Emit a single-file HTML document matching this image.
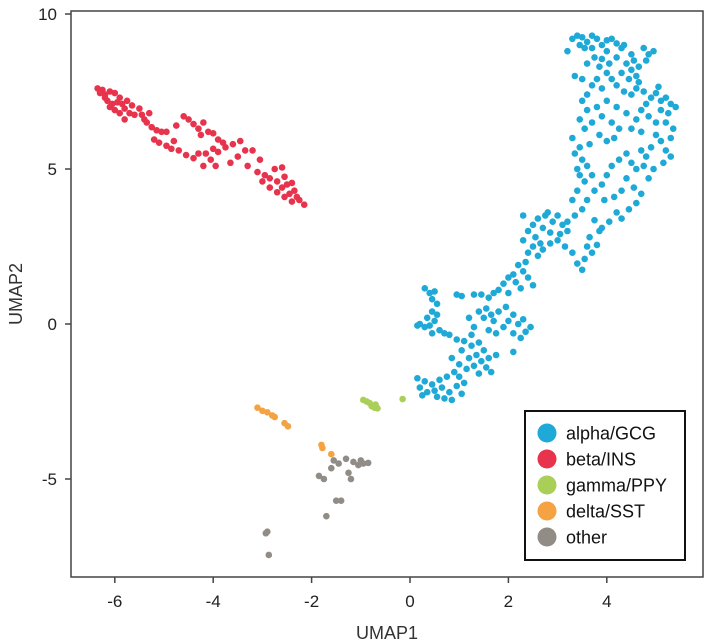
<!DOCTYPE html>
<html><head><meta charset="utf-8"><style>
html,body{margin:0;padding:0;background:#fff;width:709px;height:644px;overflow:hidden}
svg{display:block;font-family:"Liberation Sans",Arial,sans-serif}
</style></head><body>
<svg id="chart" width="709" height="644">
<g id="pts"></g>
<rect x="71" y="11" width="632" height="566" fill="none" stroke="#444" stroke-width="1.5"/>
<g id="axes"></g>
<text x="387" y="639" font-size="18" text-anchor="middle" fill="#333">UMAP1</text>
<text transform="translate(22,294) rotate(-90)" font-size="18" text-anchor="middle" fill="#333">UMAP2</text>
<g id="legend">
<rect x="525" y="411" width="160" height="149" fill="#fff" stroke="#111" stroke-width="2"/>
</g>
</svg>
<script>
const xTicks=[-6,-4,-2,0,2,4];
const yTicks=[10,5,0,-5];
const seriesNames=["alpha/GCG","beta/INS","gamma/PPY","delta/SST","other"];
const seriesColors=["#1fa9d6","#e8334d","#a9cf58","#f5a242","#918c86"];
const alpha=[[3.3,9.2],[3.4,9.3],[3.5,9.25],[3.6,9.1],[3.7,9.3],[3.8,9.2],[3.9,9.0],[4.0,9.15],[4.1,9.2],[4.2,9.05],[4.3,8.9],[4.35,9.0],[3.45,9.0],[3.55,8.9],[3.2,8.8],[4.5,8.7],[4.55,8.5],[4.65,8.3],[4.5,8.2],[4.4,8.4],[4.6,8.0],[3.75,8.6],[3.6,8.4],[3.85,8.3],[3.9,8.55],[4.05,8.4],[4.2,8.6],[4.0,8.1],[4.3,8.1],[4.1,7.9],[3.5,7.9],[3.7,7.7],[3.8,7.9],[3.9,7.6],[4.2,7.7],[4.35,7.5],[4.5,7.4],[4.6,7.6],[4.75,7.5],[4.9,7.3],[5.0,7.45],[5.1,7.2],[5.2,7.3],[5.3,7.1],[5.4,7.0],[5.25,6.8],[5.1,6.9],[4.8,7.1],[4.7,6.9],[4.85,6.7],[5.0,6.5],[5.2,6.5],[5.35,6.3],[5.3,6.0],[5.1,5.9],[5.2,5.6],[5.3,5.4],[5.15,5.2],[4.95,5.0],[4.8,5.4],[4.9,5.7],[4.7,6.2],[4.5,6.3],[4.6,6.6],[4.4,6.8],[4.2,7.0],[4.0,7.2],[3.8,7.0],[3.6,6.9],[3.5,7.2],[3.6,7.4],[3.45,6.6],[3.55,6.3],[3.7,6.5],[3.9,6.7],[4.1,6.5],[4.25,6.3],[4.15,6.0],[4.0,5.9],[3.85,6.1],[3.65,5.8],[3.45,5.7],[3.35,5.5],[3.5,5.3],[3.6,5.1],[3.4,5.0],[3.7,4.8],[3.55,4.6],[3.75,4.3],[3.9,4.5],[4.0,4.8],[4.1,5.1],[4.25,5.3],[4.4,5.5],[4.5,5.2],[4.6,5.0],[4.4,4.7],[4.55,4.4],[4.7,4.2],[4.6,3.9],[4.45,3.7],[4.3,3.4],[4.2,3.6],[4.05,3.3],[3.9,3.1],[3.75,3.35],[4.15,4.1],[4.3,4.3],[3.95,4.0],[3.6,4.0],[3.4,4.3],[3.3,4.0],[3.5,3.7],[3.35,3.5],[3.2,3.3],[3.3,6.0],[4.85,8.7],[4.75,8.9],[4.8,8.5],[4.95,8.8],[3.7,8.9],[4.0,8.8],[4.45,7.9],[4.65,7.8],[5.05,7.65],[3.35,8.0],[4.7,5.6],[5.0,6.1],[3.45,4.8],[4.85,4.7],[4.75,5.1],
[3.6,2.5],[3.7,2.3],[3.55,2.1],[3.4,1.95],[3.5,1.75],[3.8,2.55],[3.3,2.3],[3.85,3.0],[3.65,2.8],
[2.6,3.4],[2.75,3.5],[2.9,3.3],[3.0,3.5],[3.1,3.2],[2.5,3.2],[2.7,3.1],[2.85,2.95],[3.05,2.9],[2.4,3.0],[2.55,2.8],[2.65,2.6],[2.5,2.5],[2.7,2.4],[2.85,2.6],[3.0,2.7],[2.4,2.3],[2.6,2.2],[3.15,2.5],[2.3,2.7],[2.8,3.6],[2.3,3.5],[3.2,3.0],
[2.2,1.9],[2.35,2.0],[2.1,1.6],[2.3,1.7],[2.0,1.5],[1.9,1.3],[2.15,1.35],[2.4,1.5],[1.8,1.1],[2.0,1.0],[2.25,1.15],[2.5,1.25],[1.7,1.0],[1.6,0.85],
[0.3,1.15],[0.4,1.0],[0.45,0.8],[0.5,1.05],[0.55,0.65],[0.45,0.4],[0.35,0.2],[0.2,0.0],[0.3,-0.1],[0.4,-0.05],[0.5,0.1],[0.6,-0.2],[0.7,-0.3],[0.15,-0.05],[0.45,-0.3],[0.8,-0.35],[0.55,0.3],
[0.95,0.95],[1.05,0.9],[1.3,0.95],[1.45,0.95],
[1.4,0.4],[1.55,0.5],[1.65,0.3],[1.5,0.2],[1.7,0.1],[1.8,0.4],[1.95,0.55],[2.1,0.3],[2.0,0.1],[1.9,-0.1],[2.2,0.0],[2.3,0.15],[2.45,-0.1],[2.35,-0.25],[1.6,-0.2],[1.75,-0.3],[2.1,-0.3],[2.25,-0.45],[1.3,-0.1],[1.2,0.2],[2.1,-0.9],
[0.95,-0.5],[1.1,-0.55],[1.25,-0.7],[1.4,-0.6],[1.5,-0.85],[1.35,-1.0],[1.2,-1.1],[1.45,-1.2],[1.6,-1.1],[1.3,-1.35],[1.15,-1.45],[1.0,-1.3],[1.55,-1.4],[1.75,-1.0],[1.65,-1.55],[1.4,-1.6],[1.05,-0.85],[0.85,-1.1],[1.25,-0.35],
[0.9,-1.55],[1.0,-1.7],[0.75,-1.7],[0.6,-1.8],[0.45,-1.95],[0.3,-1.85],[0.2,-2.05],[0.35,-2.2],[0.5,-2.15],[0.65,-2.05],[0.8,-2.2],[0.95,-2.0],[1.1,-1.9],[0.55,-2.35],[0.7,-2.4],[0.25,-2.3],[1.05,-2.25],[0.15,-1.75],[0.85,-2.45]];
const beta=[[-6.35,7.6],[-6.25,7.55],[-6.3,7.45],[-6.2,7.4],[-6.1,7.5],[-6.0,7.45],[-5.9,7.3],[-6.15,7.2],[-6.05,7.1],[-6.0,6.9],[-5.95,7.15],[-5.85,7.1],[-5.8,6.95],[-5.75,7.2],[-5.7,6.8],[-5.6,6.75],[-5.9,6.8],[-5.65,7.05],[-5.5,6.95],[-5.45,6.75],[-5.4,6.6],[-5.35,6.5],[-5.3,6.8],[-5.25,6.35],[-5.15,6.25],[-5.8,6.6],[-6.2,7.3],[-6.1,7.0],
[-5.05,6.2],[-4.95,6.2],[-5.2,5.95],[-5.1,5.85],[-4.95,5.75],[-4.85,5.65],[-4.7,5.6],[-4.55,5.45],[-4.4,5.35],[-4.2,5.1],[-4.8,5.9],[-4.3,5.5],[-4.05,5.3],[-3.95,5.1],[-4.15,5.5],[-3.9,5.55],[-3.75,5.7],[-3.6,5.8],[-3.45,5.9],[-3.35,5.6],[-3.5,5.4],[-3.65,5.2],[-3.8,5.85],[-4.0,5.65],
[-4.75,6.4],[-4.6,6.7],[-4.5,6.6],[-4.4,6.45],[-4.3,6.3],[-4.2,6.5],[-4.1,6.2],[-4.0,6.15],[-4.25,6.1],[-3.9,5.95],
[-3.2,5.6],[-3.05,5.3],[-3.1,4.9],[-2.95,4.8],[-2.85,4.7],[-2.75,5.0],[-2.7,4.6],[-2.6,5.05],[-2.55,4.75],[-2.5,4.5],[-2.4,4.55],[-2.35,4.3],[-2.45,4.2],[-2.3,4.1],[-2.25,4.0],[-2.15,3.85],[-2.6,4.4],[-2.85,4.4],[-2.7,4.25],[-3.0,4.6],[-3.3,5.1],[-2.55,4.1],[-2.4,3.95]];
const gamma=[[-0.95,-2.45],[-0.88,-2.5],[-0.82,-2.55],[-0.78,-2.65],[-0.72,-2.7],[-0.66,-2.72],[-0.7,-2.6],[-0.15,-2.42]];
const delta=[[-3.1,-2.7],[-3.0,-2.8],[-2.9,-2.85],[-2.8,-2.95],[-2.75,-3.0],[-2.55,-3.2],[-2.48,-3.3],[-1.8,-3.9],[-1.78,-4.0],[-1.6,-4.2]];
const other=[[-1.55,-4.4],[-1.45,-4.5],[-1.3,-4.35],[-1.15,-4.45],[-1.05,-4.55],[-0.95,-4.5],[-0.85,-4.48],[-1.0,-4.4],[-1.6,-4.65],[-1.85,-4.9],[-1.75,-5.0],[-1.5,-5.7],[-1.4,-5.7],[-1.7,-6.2],[-1.25,-4.8],[-1.2,-5.0],[-2.9,-6.7],[-2.93,-6.75],[-2.87,-7.45]];
const series=[alpha,beta,gamma,delta,other];

const NS="http://www.w3.org/2000/svg";
const sx=v=>410+v*49.2;
const sy=v=>324-v*31;
const pts=document.getElementById('pts');
const order=[0,1,2,3,4];
order.forEach(si=>{
  series[si].forEach(p=>{
    const c=document.createElementNS(NS,'circle');
    c.setAttribute('cx',sx(p[0]));c.setAttribute('cy',sy(p[1]));c.setAttribute('r',3.3);
    c.setAttribute('fill',seriesColors[si]);
    
    
    pts.appendChild(c);
  });
});
const axes=document.getElementById('axes');
function mk(tag,attrs,txt){const e=document.createElementNS(NS,tag);for(const k in attrs)e.setAttribute(k,attrs[k]);if(txt!==undefined)e.textContent=txt;axes.appendChild(e);return e;}
xTicks.forEach(t=>{
  const l=mk('line',{x1:sx(t),x2:sx(t),y1:577,y2:583,stroke:'#444','stroke-width':1.5});
  
  
  const tx=mk('text',{x:sx(t),y:607,'font-size':17,'text-anchor':'middle',fill:'#222'},String(t));
  
  
});
yTicks.forEach(t=>{
  const l=mk('line',{x1:65,x2:71,y1:sy(t),y2:sy(t),stroke:'#444','stroke-width':1.5});
  
  
  const tx=mk('text',{x:57,y:sy(t)+6,'font-size':17,'text-anchor':'end',fill:'#222'},String(t));
  
  
});
const lg=document.getElementById('legend');
seriesNames.forEach((n,i)=>{
  const cy=433+i*26;
  const c=document.createElementNS(NS,'circle');
  c.setAttribute('cx',547);c.setAttribute('cy',cy);c.setAttribute('r',9.5);c.setAttribute('fill',seriesColors[i]);
  
  
  lg.appendChild(c);
  const t=document.createElementNS(NS,'text');
  t.setAttribute('x',566);t.setAttribute('y',cy+6.5);t.setAttribute('font-size',18);t.setAttribute('fill','#111');
  t.textContent=n;
  
  
  lg.appendChild(t);
});
</script>
</body></html>
